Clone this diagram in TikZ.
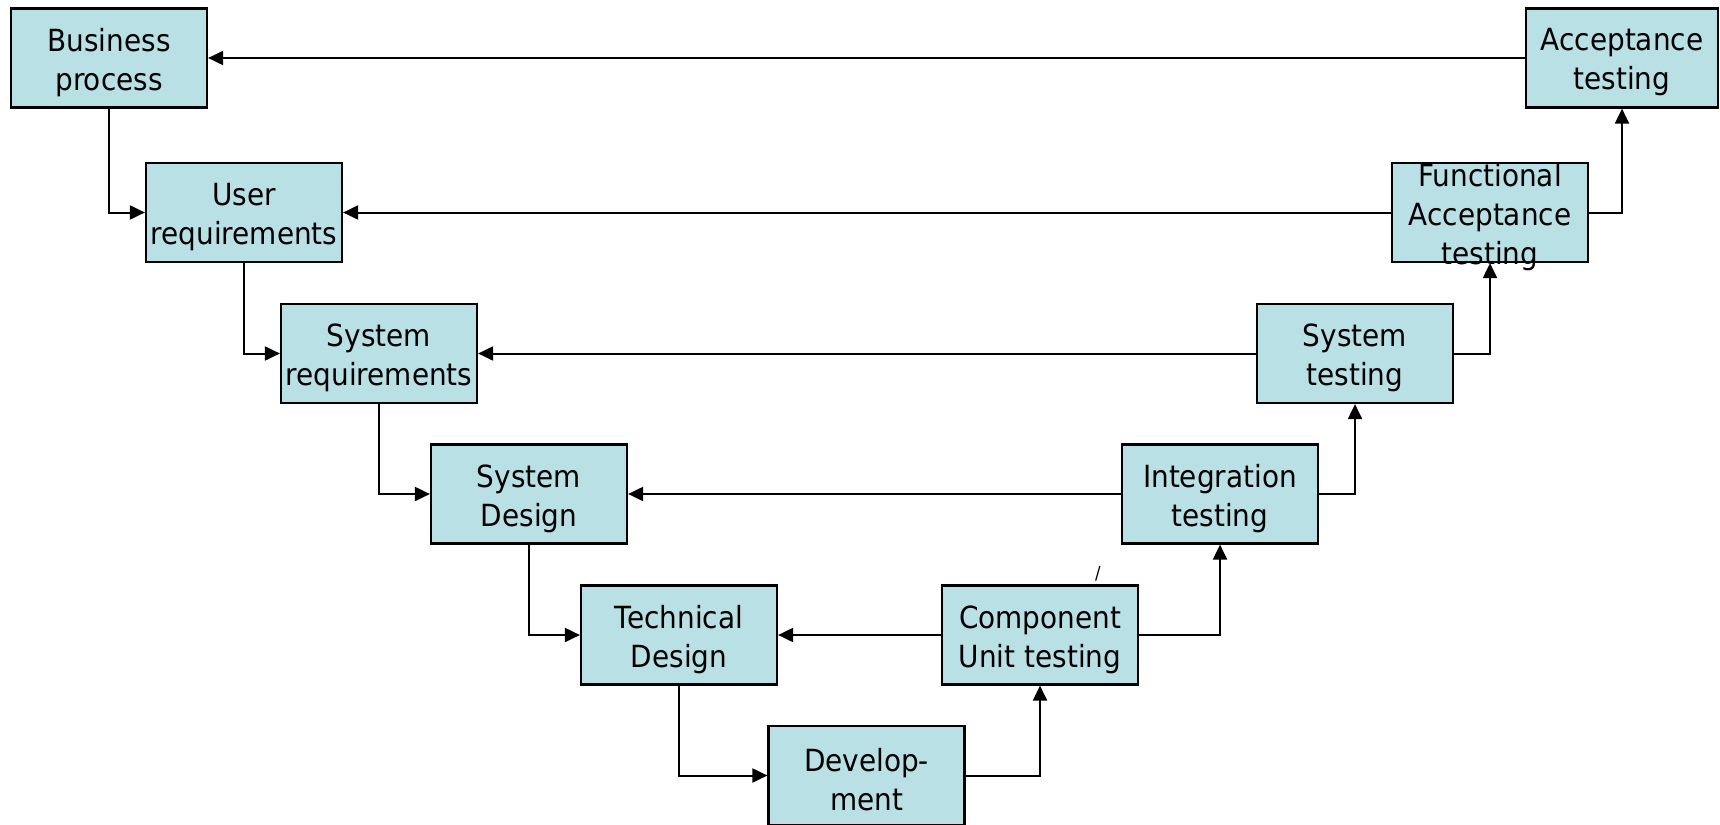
\documentclass[tikz,border=0pt]{standalone}
\usepackage{fontspec}
\setmainfont{DejaVu Sans}[FakeStretch=0.915]
\usetikzlibrary{arrows.meta}
\definecolor{boxfill}{RGB}{185,224,228}
\tikzset{
  stagefont/.style={font=\fontsize{30.5}{39}\selectfont},
  plain/.style={align=center, inner sep=0pt, stagefont},
  stage/.style={draw=black, line width=2.2pt, fill=boxfill,
    minimum width=196pt, minimum height=99pt, inner sep=0pt,
    label={[plain, yshift=-4.5pt]center:#1}},
  link/.style={line width=2pt, -{Triangle[length=15pt,width=14pt]}},
}
\begin{document}
\begin{tikzpicture}[x=1pt, y=-1pt]
\useasboundingbox (0,0) rectangle (1720,824);

% design side (left leg of the V)
\node[stage={Business\\process}]     (bp)  at (109,58)    {};
\node[stage={User\\requirements}]    (ur)  at (244,212.5) {};
\node[stage={System\\requirements}]  (sr)  at (379,353.5) {};
\node[stage={System\\Design}]        (sd)  at (529,494)   {};
\node[stage={Technical\\Design}]     (td)  at (679,635)   {};
\node[stage={Develop-\\ment}]        (dev) at (866.5,775.5) {};

% test side (right leg of the V)
\node[stage={Component\\Unit testing}] (cut) at (1040,635)  {};
\node[stage={Integration\\testing}]    (it)  at (1220,494)  {};
\node[stage={System\\testing}]         (st)  at (1355,353.5) {};
\node[stage={Functional\\Acceptance\\testing}] (fat) at (1490,212.5) {};
\node[stage={Acceptance\\testing}, minimum width=192pt] (at) at (1622,58) {};

% stray mark above the unit test box
\node[inner sep=0pt, font=\fontsize{18}{18}\selectfont] (mark) at (1098,574) {/};

% down the left leg
\draw[link] (bp.south)  |- (ur.west);
\draw[link] (ur.south)  |- (sr.west);
\draw[link] (sr.south)  |- (sd.west);
\draw[link] (sd.south)  |- (td.west);
\draw[link] (td.south)  |- (dev.west);

% up the right leg
\draw[link] (dev.east) -| (cut.south);
\draw[link] (cut.east) -| (it.south);
\draw[link] (it.east)  -| (st.south);
\draw[link] (st.east)  -| (fat.south);
\draw[link] (fat.east) -| (at.south);

% verification links across the V
\draw[link] (cut.west) -- (td.east);
\draw[link] (it.west)  -- (sd.east);
\draw[link] (st.west)  -- (sr.east);
\draw[link] (fat.west) -- (ur.east);
\draw[link] (at.west)  -- (bp.east);
\end{tikzpicture}
\end{document}
